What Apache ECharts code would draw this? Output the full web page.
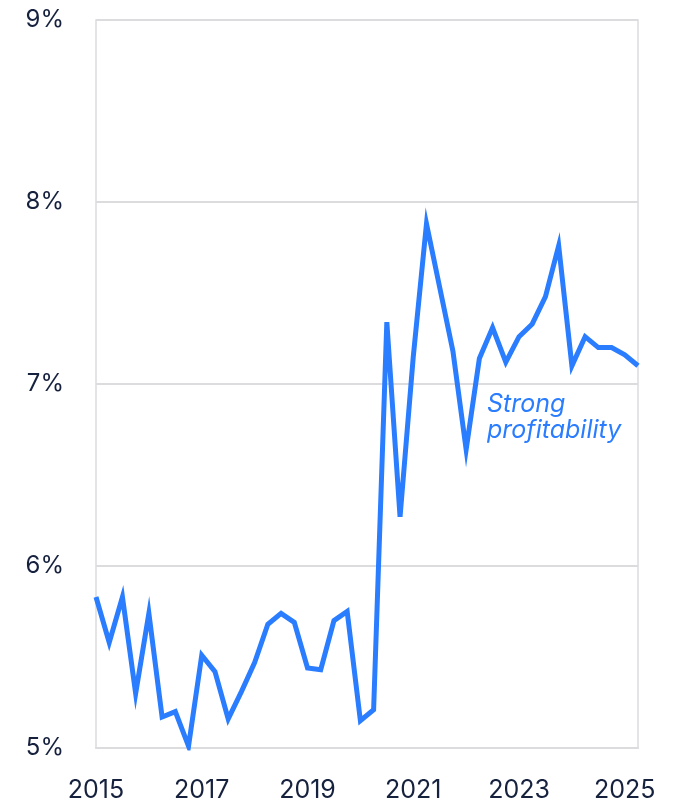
<!DOCTYPE html>
<html>
<head>
<meta charset="utf-8">
<script src="https://cdn.jsdelivr.net/npm/echarts@6/dist/echarts.min.js"></script>
<style>
  html, body { margin: 0; padding: 0; background: #ffffff; }
  #chart { width: 679px; height: 806px; }
</style>
</head>
<body>
<div id="chart"></div>
<script>
// Quarterly periods, 2015 Q1 through 2025 Q2
const years = [2015, 2016, 2017, 2018, 2019, 2020, 2021, 2022, 2023, 2024, 2025];
const quarters = [];
years.forEach(y => {
  for (let q = 1; q <= 4; q++) {
    if (y === 2025 && q > 2) break;
    quarters.push(y + ' Q' + q);
  }
});

// Margin (%) per quarter
const margin = [
  5.83, 5.58, 5.83, 5.30, 5.74, 5.17, 5.20, 5.01,
  5.51, 5.42, 5.16, 5.31, 5.47, 5.68, 5.74, 5.69,
  5.44, 5.43, 5.70, 5.75, 5.15, 5.21, 7.34, 6.27,
  7.15, 7.88, 7.53, 7.18, 6.64, 7.14, 7.31, 7.12,
  7.26, 7.33, 7.48, 7.76, 7.10, 7.26, 7.20, 7.20,
  7.16, 7.10
];

const yTicks = [5, 6, 7, 8, 9];
const annotation = 'Strong\nprofitability';

const labelFont = 'Inter, "Open Sans", sans-serif';
const ink = '#16213e';
const blue = '#2a7dff';
const rule = '#dcdcdf';

const chart = echarts.init(document.getElementById('chart'), null, { renderer: 'canvas' });
chart.setOption({
  animation: false,
  backgroundColor: '#ffffff',
  grid: {
    left: 96, right: 41, top: 20, bottom: 58,
    show: true, borderColor: rule, borderWidth: 1.5
  },
  xAxis: {
    type: 'category',
    data: quarters,
    boundaryGap: false,
    axisLine: { show: true, lineStyle: { color: rule, width: 2 } },
    axisTick: { show: false },
    splitLine: { show: false },
    axisLabel: {
      interval: 7,
      margin: 30,
      color: ink,
      fontFamily: labelFont,
      fontSize: 25,
      formatter: v => v.slice(0, 4)
    }
  },
  yAxis: {
    type: 'value',
    min: yTicks[0],
    max: yTicks[yTicks.length - 1],
    interval: 1,
    axisLine: { show: false },
    axisTick: { show: false },
    splitLine: { show: true, lineStyle: { color: rule, width: 2 } },
    axisLabel: {
      margin: 32,
      color: ink,
      fontFamily: labelFont,
      fontSize: 24,
      formatter: v => v + '%'
    }
  },
  series: [{
    type: 'line',
    data: margin,
    symbol: 'none',
    lineStyle: { color: blue, width: 5, join: 'miter' }
  }],
  graphic: [{
    type: 'text',
    x: 487,
    y: 391,
    style: {
      text: annotation,
      fill: blue,
      fontFamily: labelFont,
      fontStyle: 'italic',
      fontSize: 25,
      lineHeight: 26,
      textAlign: 'left',
      textVerticalAlign: 'top'
    }
  }]
});
</script>
</body>
</html>
